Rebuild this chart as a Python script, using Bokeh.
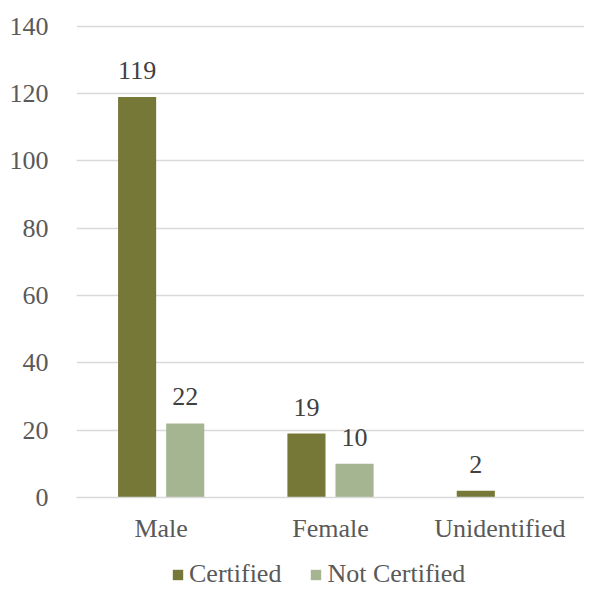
from bokeh.plotting import figure
from bokeh.layouts import column
from bokeh.models import ColumnDataSource, FactorRange, Legend, LegendItem, Range1d, FixedTicker
from bokeh.transform import dodge
from bokeh.embed import file_html
from bokeh.resources import INLINE
from bokeh.core.properties import value

categories = ["Male", "Female", "Unidentified"]
certified = [119, 19, 2]
not_certified = [22, 10, 0]
y_ticks = [0, 20, 40, 60, 80, 100, 120, 140]
series_names = ["Certified", "Not Certified"]

FONT = "Liberation Serif"
C1 = "#767838"
C2 = "#a5b592"

src = ColumnDataSource(dict(
    cat=categories,
    cert=certified,
    notc=not_certified,
    cert_lbl=[str(v) if v else "" for v in certified],
    notc_lbl=[str(v) if v else "" for v in not_certified],
))

xr = FactorRange(*categories, range_padding=0)
yr = Range1d(0, 140.5)

p = figure(width=584, height=545, x_range=xr, y_range=yr,
           output_backend="svg", toolbar_location=None,
           min_border_left=76, min_border_right=0, min_border_top=24, min_border_bottom=47)
p.outline_line_color = None

p.vbar(x=dodge("cat", -0.142, range=xr), top="cert", width=0.225, source=src,
       fill_color=C1, line_color=None)
p.vbar(x=dodge("cat", 0.142, range=xr), top="notc", width=0.225, source=src,
       fill_color=C2, line_color=None)

p.text(x=dodge("cat", -0.142, range=xr), y="cert", text="cert_lbl", source=src,
       text_align="center", text_baseline="bottom", y_offset=-18,
       text_font=value(FONT), text_font_size="26px", text_color="#404040")
p.text(x=dodge("cat", 0.142, range=xr), y="notc", text="notc_lbl", source=src,
       text_align="center", text_baseline="bottom", y_offset=-18,
       text_font=value(FONT), text_font_size="26px", text_color="#404040")

p.yaxis.ticker = FixedTicker(ticks=y_ticks)
p.yaxis.axis_line_color = None
p.yaxis.major_tick_line_color = None
p.yaxis.minor_tick_line_color = None
p.yaxis.major_label_standoff = 22
p.yaxis.major_label_text_font = FONT
p.yaxis.major_label_text_font_size = "26px"
p.yaxis.major_label_text_color = "#595959"

p.xaxis.axis_line_color = "#d9d9d9"
p.xaxis.axis_line_width = 1.5
p.xaxis.major_tick_line_color = None
p.xaxis.minor_tick_line_color = None
p.xaxis.major_label_standoff = 10
p.xaxis.major_label_text_font = FONT
p.xaxis.major_label_text_font_size = "26px"
p.xaxis.major_label_text_color = "#595959"

p.xgrid.grid_line_color = None
p.ygrid.grid_line_color = "#d9d9d9"
p.ygrid.grid_line_width = 1.5

# legend strip below the chart
p2 = figure(width=584, height=44, x_range=xr, y_range=yr, output_backend="svg",
            toolbar_location=None, x_axis_type=None, y_axis_type=None, min_border=0)
p2.outline_line_color = None
p2.grid.grid_line_color = None
g1 = p2.vbar(x=dodge("cat", -0.142, range=xr), top="cert", width=0.222, source=src,
             fill_color=C1, line_color=None, visible=False)
g2 = p2.vbar(x=dodge("cat", 0.142, range=xr), top="notc", width=0.222, source=src,
             fill_color=C2, line_color=None, visible=False)
legend = Legend(items=[LegendItem(label=series_names[0], renderers=[g1]),
                       LegendItem(label=series_names[1], renderers=[g2])],
                orientation="horizontal", location=(95, 0),
                label_text_font=FONT, label_text_font_size="26px", label_text_color="#595959",
                glyph_width=13, glyph_height=13, spacing=28, label_standoff=5,
                border_line_color=None, background_fill_alpha=0,
                inactive_fill_alpha=0, padding=0, margin=0)
p2.add_layout(legend, "center")

open("out.html", "w").write(file_html(column(p, p2, spacing=0), INLINE))
